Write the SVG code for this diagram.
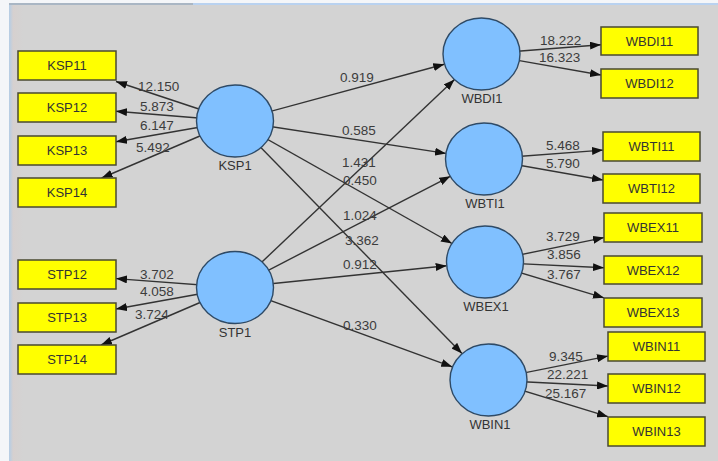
<svg xmlns="http://www.w3.org/2000/svg" width="718" height="461" viewBox="0 0 718 461">
  <style>
    .box { fill: #ffff00; stroke: #4a4a30; stroke-width: 1.5; }
    .lv { fill: #80c0ff; stroke: #2e4a66; stroke-width: 1.4; }
    .txt { font-family: "Liberation Sans", Arial, sans-serif; font-size: 13px; fill: #333; }
    .num { font-family: "Liberation Sans", Arial, sans-serif; font-size: 13.5px; fill: #3c3c3c; }
    .name { text-anchor: middle; }
    .edge { stroke: #333; stroke-width: 1.4; fill: none; marker-end: url(#arrow); }
  </style>
  <defs>
    <marker id="arrow" markerUnits="userSpaceOnUse" markerWidth="11" markerHeight="8" refX="11" refY="4" orient="auto">
      <path d="M0,0 L11,4 L0,8 z" fill="#111"/>
    </marker>
    <linearGradient id="edgeL" x1="0" x2="1" y1="0" y2="0">
      <stop offset="0" stop-color="#b4cde6"/>
      <stop offset="0.3" stop-color="#d6d0cf"/>
      <stop offset="1" stop-color="#d3d3d3"/>
    </linearGradient>
  </defs>

  <!-- window frame and canvas -->
  <rect x="0" y="0" width="718" height="461" fill="#f4f6f9"/>
  <rect x="9" y="3" width="709" height="458" fill="#d3d3d3"/>
  <rect x="9" y="3" width="14" height="458" fill="url(#edgeL)"/>
  <rect x="9" y="3" width="184" height="2" fill="#a9b6c4"/>
  <rect x="193" y="3" width="525" height="2" fill="#b9d2f0"/>

  <!-- connectors -->
  <g id="connectors">
    <path class="edge" d="M235,121 L116,81.5"/>
    <path class="edge" d="M235,121 L116,111.2"/>
    <path class="edge" d="M235,121 L116,141.7"/>
    <path class="edge" d="M235,121 L101.6,178"/>
    <path class="edge" d="M235,287.5 L116,278.6"/>
    <path class="edge" d="M235,287.5 L116,309"/>
    <path class="edge" d="M235,287.5 L101,345"/>
    <path class="edge" d="M235,121 L444.3,64.3"/>
    <path class="edge" d="M235,121 L446,153.4"/>
    <path class="edge" d="M235,121 L452,243.5"/>
    <path class="edge" d="M235,121 L462,353.5"/>
    <path class="edge" d="M235,287.5 L454.5,79.6"/>
    <path class="edge" d="M235,287.5 L450.3,176.3"/>
    <path class="edge" d="M235,287.5 L446.7,265.8"/>
    <path class="edge" d="M235,287.5 L452.2,366.8"/>
    <path class="edge" d="M481.5,54 L601,44.7"/>
    <path class="edge" d="M481.5,54 L601,75"/>
    <path class="edge" d="M484,159 L603,150.1"/>
    <path class="edge" d="M484,159 L603,180"/>
    <path class="edge" d="M485,262 L604,237.6"/>
    <path class="edge" d="M485,262 L604,267.7"/>
    <path class="edge" d="M485,262 L604,297.8"/>
    <path class="edge" d="M488.5,380 L608,356.1"/>
    <path class="edge" d="M488.5,380 L608,386"/>
    <path class="edge" d="M488.5,380 L608,416.7"/>
  </g>

  <!-- connector weights -->
  <g id="weights" class="num">
    <text x="138" y="90.5">12.150</text>
    <text x="140" y="111">5.873</text>
    <text x="140" y="129.5">6.147</text>
    <text x="136" y="151.5">5.492</text>
    <text x="140" y="278.5">3.702</text>
    <text x="140" y="296">4.058</text>
    <text x="135" y="319">3.724</text>
    <text x="340" y="82.3">0.919</text>
    <text x="342" y="134.5">0.585</text>
    <text x="342" y="166.5">1.431</text>
    <text x="343" y="185.3">0.450</text>
    <text x="343" y="220">1.024</text>
    <text x="345" y="245">3.362</text>
    <text x="343" y="269">0.912</text>
    <text x="343" y="329.5">0.330</text>
    <text x="540" y="45">18.222</text>
    <text x="539" y="62.3">16.323</text>
    <text x="546" y="150">5.468</text>
    <text x="546" y="167.7">5.790</text>
    <text x="546" y="240.7">3.729</text>
    <text x="547" y="259.3">3.856</text>
    <text x="547" y="279.3">3.767</text>
    <text x="549" y="361">9.345</text>
    <text x="547" y="379.3">22.221</text>
    <text x="545" y="398.3">25.167</text>
  </g>

  <!-- latent variables -->
  <g id="KSP1"><ellipse class="lv" cx="235" cy="121" rx="38.5" ry="36"/><text class="txt name" x="235" y="170">KSP1</text></g>
  <g id="STP1"><ellipse class="lv" cx="235" cy="287.5" rx="38.5" ry="36"/><text class="txt name" x="235" y="337">STP1</text></g>
  <g id="WBDI1"><ellipse class="lv" cx="481.5" cy="54" rx="38.5" ry="36"/><text class="txt name" x="482" y="102.7">WBDI1</text></g>
  <g id="WBTI1"><ellipse class="lv" cx="484" cy="159" rx="38.5" ry="36"/><text class="txt name" x="485" y="208.3">WBTI1</text></g>
  <g id="WBEX1"><ellipse class="lv" cx="485" cy="262" rx="38.5" ry="36"/><text class="txt name" x="486" y="311">WBEX1</text></g>
  <g id="WBIN1"><ellipse class="lv" cx="488.5" cy="380" rx="38.5" ry="36"/><text class="txt name" x="490" y="429.3">WBIN1</text></g>

  <!-- indicators -->
  <g id="KSP11"><rect class="box" x="18" y="51" width="98" height="29"/><text class="txt name" x="67" y="70.3">KSP11</text></g>
  <g id="KSP12"><rect class="box" x="18" y="93" width="98" height="29"/><text class="txt name" x="67" y="112.3">KSP12</text></g>
  <g id="KSP13"><rect class="box" x="18" y="136" width="98" height="29"/><text class="txt name" x="67" y="155.3">KSP13</text></g>
  <g id="KSP14"><rect class="box" x="18" y="178" width="98" height="29"/><text class="txt name" x="67" y="197.3">KSP14</text></g>
  <g id="STP12"><rect class="box" x="18" y="260" width="98" height="29"/><text class="txt name" x="67" y="279.3">STP12</text></g>
  <g id="STP13"><rect class="box" x="18" y="303" width="98" height="29"/><text class="txt name" x="67" y="322.3">STP13</text></g>
  <g id="STP14"><rect class="box" x="18" y="345" width="98" height="29"/><text class="txt name" x="67" y="364.3">STP14</text></g>
  <g id="WBDI11"><rect class="box" x="601" y="27" width="97" height="28"/><text class="txt name" x="649.5" y="45.8">WBDI11</text></g>
  <g id="WBDI12"><rect class="box" x="601" y="69" width="97" height="29"/><text class="txt name" x="649.5" y="88.3">WBDI12</text></g>
  <g id="WBTI11"><rect class="box" x="603" y="132" width="97" height="29"/><text class="txt name" x="651.5" y="151.3">WBTI11</text></g>
  <g id="WBTI12"><rect class="box" x="603" y="174" width="97" height="29"/><text class="txt name" x="651.5" y="193.3">WBTI12</text></g>
  <g id="WBEX11"><rect class="box" x="604" y="213" width="98" height="29"/><text class="txt name" x="653" y="232.3">WBEX11</text></g>
  <g id="WBEX12"><rect class="box" x="604" y="256" width="98" height="28"/><text class="txt name" x="653" y="274.8">WBEX12</text></g>
  <g id="WBEX13"><rect class="box" x="604" y="298" width="98" height="29"/><text class="txt name" x="653" y="317.3">WBEX13</text></g>
  <g id="WBIN11"><rect class="box" x="608" y="332" width="97" height="29"/><text class="txt name" x="656.5" y="351.3">WBIN11</text></g>
  <g id="WBIN12"><rect class="box" x="608" y="374" width="97" height="29"/><text class="txt name" x="656.5" y="393.3">WBIN12</text></g>
  <g id="WBIN13"><rect class="box" x="608" y="417" width="97" height="29"/><text class="txt name" x="656.5" y="436.3">WBIN13</text></g>
</svg>
